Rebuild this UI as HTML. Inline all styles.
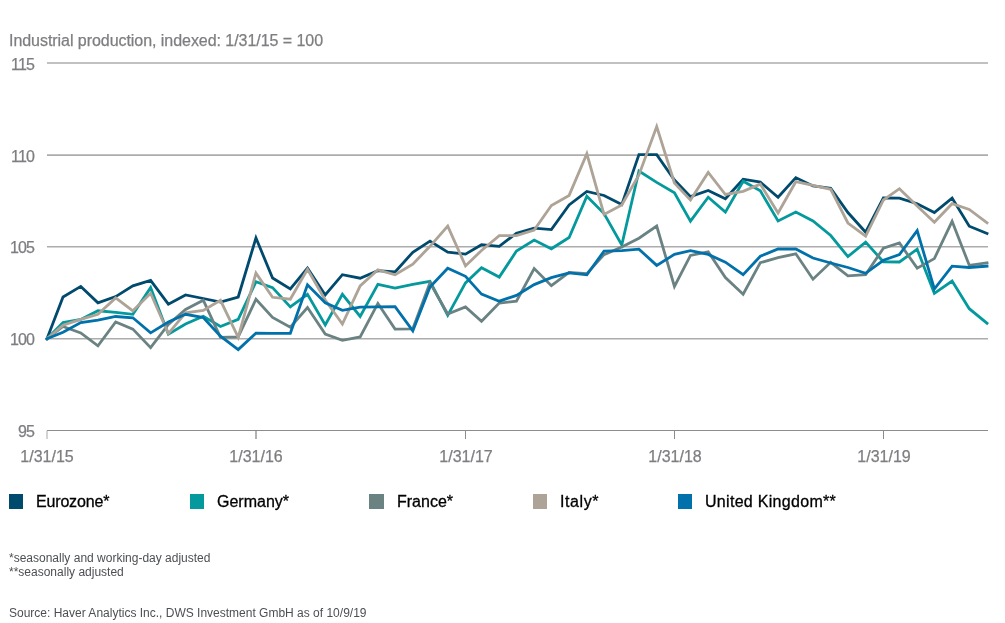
<!DOCTYPE html>
<html><head><meta charset="utf-8"><style>
*{margin:0;padding:0;box-sizing:border-box}
html,body{width:1005px;height:623px;background:#fff;overflow:hidden}
body{position:relative;font-family:"Liberation Sans",Arial,sans-serif}
.t,.yl,.xl,.lt,.fn{will-change:transform}
.t,.yl,.xl{-webkit-text-stroke:0.25px #7d7e81}
.t{position:absolute;left:9px;top:31px;letter-spacing:-0.05px;font-size:16px;line-height:20px;color:#7d7e81;white-space:nowrap}
.yl{position:absolute;left:0;width:34.2px;text-align:right;letter-spacing:-0.8px;font-size:16px;line-height:20px;color:#7d7e81}
.xl{position:absolute;top:447px;width:80px;text-align:center;font-size:16px;line-height:20px;color:#7d7e81}
svg{position:absolute;left:0;top:0}
.sq{position:absolute;top:494.3px;width:14.3px;height:14.3px}
.lt{position:absolute;top:492px;font-size:16px;line-height:20px;color:#000;white-space:nowrap;-webkit-text-stroke:0.3px #000}
.fn{position:absolute;left:8.5px;font-size:12px;line-height:14px;color:#4d4f53;white-space:nowrap}
</style></head><body>
<div class="t">Industrial production, indexed: 1/31/15 = 100</div>
<div class="yl" style="top:54.5px">115</div><div class="yl" style="top:146.6px">110</div><div class="yl" style="top:238.3px">105</div><div class="yl" style="top:330.3px">100</div><div class="yl" style="top:422.0px">95</div>
<svg width="1005" height="623" viewBox="0 0 1005 623">
<line x1="47" y1="63.0" x2="988" y2="63.0" stroke="#acacac" stroke-width="1.6"/>
<line x1="47" y1="155.1" x2="988" y2="155.1" stroke="#acacac" stroke-width="1.6"/>
<line x1="47" y1="246.8" x2="988" y2="246.8" stroke="#acacac" stroke-width="1.6"/>
<line x1="47" y1="338.8" x2="988" y2="338.8" stroke="#acacac" stroke-width="1.6"/>
<line x1="47" y1="430.5" x2="988" y2="430.5" stroke="#8c8c8c" stroke-width="1.2"/>
<line x1="47.00" y1="430.5" x2="47.00" y2="439" stroke="#a8a8a8" stroke-width="1.0"/>
<line x1="256.00" y1="430.5" x2="256.00" y2="439" stroke="#888888" stroke-width="1.3"/>
<line x1="465.50" y1="430.5" x2="465.50" y2="439" stroke="#8c8c8c" stroke-width="1.0"/>
<line x1="674.50" y1="430.5" x2="674.50" y2="439" stroke="#8c8c8c" stroke-width="1.0"/>
<line x1="883.50" y1="430.5" x2="883.50" y2="439" stroke="#8c8c8c" stroke-width="1.0"/>
<polyline fill="none" stroke="#004a6e" stroke-width="2.8" stroke-linejoin="miter" stroke-miterlimit="4" stroke-linecap="square" points="47.00,338.8 63.03,297.0 80.78,286.4 97.95,302.8 115.70,296.6 132.87,285.9 150.62,280.5 168.37,304.2 185.54,295.0 203.29,298.5 220.46,302.1 238.21,297.0 255.96,238.0 272.56,278.0 290.31,289.0 307.48,268.0 325.23,295.0 342.40,274.7 360.15,278.2 377.90,270.6 395.07,272.0 412.82,252.2 429.99,241.1 447.74,252.2 465.49,254.1 481.52,244.7 499.26,246.3 516.44,233.2 534.18,228.2 551.36,229.6 569.11,205.0 586.85,191.4 604.03,195.5 621.77,204.6 638.95,154.6 656.70,154.6 674.44,180.0 690.47,196.6 708.22,190.5 725.39,198.8 743.14,179.2 760.32,182.1 778.06,197.2 795.81,177.6 812.98,186.0 830.73,188.2 847.91,212.5 865.65,232.2 883.40,198.0 899.43,198.1 917.18,203.7 934.35,212.6 952.10,198.1 969.27,226.2 987.02,233.4"/>
<polyline fill="none" stroke="#04999c" stroke-width="2.8" stroke-linejoin="miter" stroke-miterlimit="4" stroke-linecap="square" points="47.00,338.8 63.03,322.6 80.78,319.4 97.95,310.8 115.70,312.3 132.87,314.3 150.62,287.6 168.37,334.2 185.54,324.0 203.29,316.2 220.46,326.5 238.21,319.4 255.96,281.8 272.56,287.6 290.31,306.9 307.48,294.4 325.23,325.0 342.40,294.3 360.15,316.4 377.90,284.3 395.07,288.0 412.82,284.3 429.99,281.4 447.74,315.3 465.49,282.9 481.52,267.8 499.26,277.1 516.44,251.1 534.18,240.0 551.36,248.8 569.11,237.5 586.85,196.2 604.03,213.5 621.77,245.0 638.95,171.0 656.70,182.4 674.44,192.8 690.47,221.1 708.22,197.2 725.39,212.1 743.14,181.2 760.32,190.8 778.06,220.9 795.81,212.1 812.98,221.0 830.73,235.5 847.91,256.6 865.65,242.1 883.40,261.8 899.43,262.0 917.18,249.2 934.35,293.4 952.10,281.1 969.27,308.7 987.02,323.2"/>
<polyline fill="none" stroke="#6b8283" stroke-width="2.8" stroke-linejoin="miter" stroke-miterlimit="4" stroke-linecap="square" points="47.00,338.8 63.03,326.5 80.78,332.9 97.95,345.8 115.70,322.0 132.87,329.1 150.62,347.6 168.37,324.5 185.54,309.4 203.29,300.2 220.46,337.4 238.21,336.8 255.96,299.2 272.56,317.5 290.31,327.2 307.48,307.5 325.23,334.0 342.40,340.3 360.15,337.0 377.90,303.4 395.07,329.1 412.82,328.8 429.99,282.9 447.74,314.0 465.49,306.9 481.52,321.2 499.26,303.1 516.44,301.2 534.18,268.6 551.36,285.7 569.11,272.4 586.85,273.6 604.03,254.6 621.77,247.0 638.95,238.2 656.70,226.1 674.44,286.4 690.47,255.4 708.22,251.8 725.39,277.5 743.14,294.2 760.32,262.7 778.06,257.6 795.81,253.8 812.98,279.2 830.73,262.3 847.91,275.9 865.65,274.6 883.40,248.2 899.43,243.0 917.18,268.1 934.35,258.6 952.10,221.3 969.27,265.3 987.02,262.8"/>
<polyline fill="none" stroke="#ada397" stroke-width="2.8" stroke-linejoin="miter" stroke-miterlimit="4" stroke-linecap="square" points="47.00,338.8 63.03,325.2 80.78,319.4 97.95,314.3 115.70,297.9 132.87,310.8 150.62,293.3 168.37,333.6 185.54,312.8 203.29,310.4 220.46,300.3 238.21,337.3 255.96,273.1 272.56,297.3 290.31,299.2 307.48,269.2 325.23,300.0 342.40,324.0 360.15,285.9 377.90,269.8 395.07,274.8 412.82,264.1 429.99,246.3 447.74,226.1 465.49,265.9 481.52,250.5 499.26,235.7 516.44,235.7 534.18,230.1 551.36,205.5 569.11,195.4 586.85,153.8 604.03,214.4 621.77,205.0 638.95,175.0 656.70,126.6 674.44,183.0 690.47,200.1 708.22,172.5 725.39,194.5 743.14,191.3 760.32,184.1 778.06,212.9 795.81,181.7 812.98,185.3 830.73,189.3 847.91,223.0 865.65,236.2 883.40,200.0 899.43,188.7 917.18,206.1 934.35,222.2 952.10,203.7 969.27,209.4 987.02,222.7"/>
<polyline fill="none" stroke="#0071aa" stroke-width="2.8" stroke-linejoin="miter" stroke-miterlimit="4" stroke-linecap="square" points="47.00,338.8 63.03,332.3 80.78,322.6 97.95,320.1 115.70,316.5 132.87,317.8 150.62,332.9 168.37,322.0 185.54,314.3 203.29,317.5 220.46,336.1 238.21,349.6 255.96,333.1 272.56,333.3 290.31,333.3 307.48,284.8 325.23,302.8 342.40,310.3 360.15,307.2 377.90,306.8 395.07,306.6 412.82,330.9 429.99,287.1 447.74,268.3 465.49,276.3 481.52,294.1 499.26,301.2 516.44,295.4 534.18,284.6 551.36,277.7 569.11,272.9 586.85,274.8 604.03,251.1 621.77,250.7 638.95,249.1 656.70,265.4 674.44,254.4 690.47,250.6 708.22,254.4 725.39,262.1 743.14,274.6 760.32,256.3 778.06,249.0 795.81,249.0 812.98,258.0 830.73,263.0 847.91,267.5 865.65,273.3 883.40,260.3 899.43,254.6 917.18,230.6 934.35,289.0 952.10,266.2 969.27,267.5 987.02,266.1"/>
</svg>
<div class="xl" style="left:7.00px">1/31/15</div><div class="xl" style="left:216.00px">1/31/16</div><div class="xl" style="left:425.50px">1/31/17</div><div class="xl" style="left:634.50px">1/31/18</div><div class="xl" style="left:843.50px">1/31/19</div>
<div class="sq" style="left:9px;background:#004a6e"></div><div class="lt" style="left:36px;letter-spacing:-0.17px">Eurozone*</div><div class="sq" style="left:190px;background:#04999c"></div><div class="lt" style="left:217px;letter-spacing:0px">Germany*</div><div class="sq" style="left:369.3px;background:#6b8283"></div><div class="lt" style="left:397px;letter-spacing:0px">France*</div><div class="sq" style="left:533px;background:#ada397"></div><div class="lt" style="left:559.5px;letter-spacing:0.6px">Italy*</div><div class="sq" style="left:678.2px;background:#0071aa"></div><div class="lt" style="left:704.8px;letter-spacing:0.3px">United Kingdom**</div>
<div class="fn" style="top:550.8px">*seasonally and working-day adjusted<br>**seasonally adjusted</div>
<div class="fn" style="top:606px">Source: Haver Analytics Inc., DWS Investment GmbH as of 10/9/19</div>
</body></html>
